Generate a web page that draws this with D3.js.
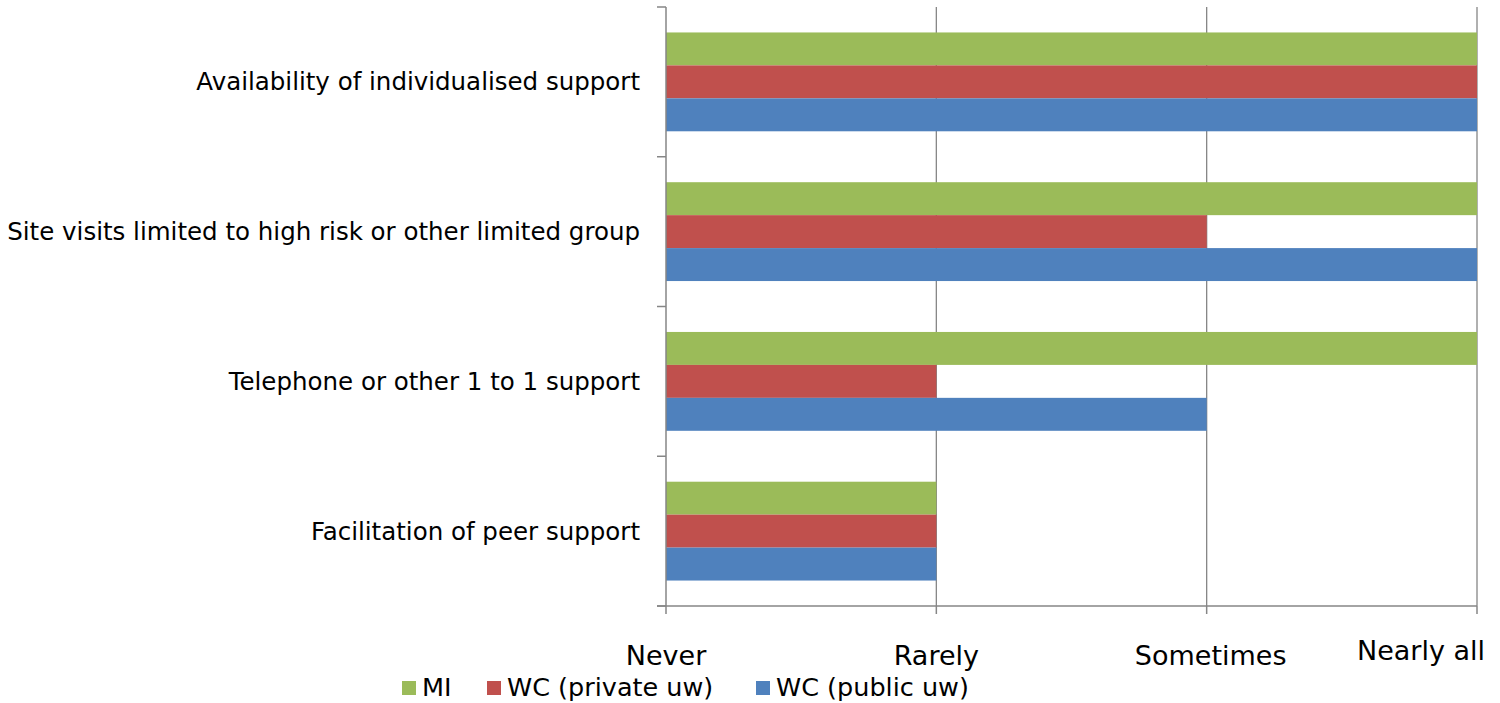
<!DOCTYPE html>
<html><head><meta charset="utf-8">
<script src="https://cdn.jsdelivr.net/npm/d3@7"></script>
<style>
html,body{margin:0;padding:0;background:#fff;}
svg text{font-family:"DejaVu Sans","Noto Sans",sans-serif;fill:#000;}
</style></head>
<body><svg id="c" width="1500" height="703"></svg>
<script>
const categories = ["Availability of individualised support","Site visits limited to high risk or other limited group","Telephone or other 1 to 1 support","Facilitation of peer support"];
const seriesNames = ["MI","WC (private uw)","WC (public uw)"];
const seriesColors = ["#9BBB59","#C0504D","#4F81BD"];
const valuesMI = [3,3,3,1];
const valuesWCprivate = [3,2,1,1];
const valuesWCpublic = [3,3,2,1];
const tickLabels = ["Never","Rarely","Sometimes","Nearly all"];
const tickValues = [0,1,2,3];

(function(){
const seriesValues = [valuesMI, valuesWCprivate, valuesWCpublic];
const svg = d3.select("#c");
const pl = 666, pr = 1477, pt = 7, pb = 606;

const x = d3.scaleLinear().domain([0,3]).range([pl,pr]);
const y = d3.scaleBand().domain(categories).range([pt,pb]).paddingInner(0.34).paddingOuter(0.17);
const ys = d3.scaleBand().domain(seriesNames).range([0,y.bandwidth()]);

svg.append("g").selectAll("line").data(tickValues.slice(1)).join("line")
  .attr("x1",d=>x(d)).attr("x2",d=>x(d)).attr("y1",pt).attr("y2",pb)
  .attr("stroke","#868686").attr("stroke-width",1.3);

const rows = categories.map((c,i)=>({c, vals: seriesNames.map((s,j)=>({s, v: seriesValues[j][i], col: seriesColors[j]}))}));
const g = svg.append("g");
rows.forEach(r=>{
  g.append("g").selectAll("rect").data(r.vals).join("rect")
    .attr("x",x(0)).attr("y",d=>y(r.c)+ys(d.s))
    .attr("width",d=>x(d.v)-x(0)).attr("height",ys.bandwidth())
    .attr("fill",d=>d.col);
});

const bounds = d3.range(categories.length+1).map(i=>pt + i*((pb-pt)/categories.length));
svg.append("line").attr("x1",pl).attr("x2",pl).attr("y1",pt).attr("y2",pb).attr("stroke","#868686").attr("stroke-width",1.5);
svg.append("g").selectAll("line").data(bounds).join("line")
  .attr("x1",pl-9).attr("x2",pl).attr("y1",d=>d).attr("y2",d=>d).attr("stroke","#868686").attr("stroke-width",1.5);
svg.append("line").attr("x1",pl-9).attr("x2",pr).attr("y1",pb).attr("y2",pb).attr("stroke","#868686").attr("stroke-width",1.5);
svg.append("g").selectAll("line").data(tickValues).join("line")
  .attr("x1",d=>x(d)).attr("x2",d=>x(d)).attr("y1",pb).attr("y2",pb+8).attr("stroke","#868686").attr("stroke-width",1.5);

svg.append("g").selectAll("text").data(categories).join("text")
  .attr("x",640).attr("y",d=>y(d)+y.bandwidth()/2).attr("dy","0.35em")
  .attr("text-anchor","end").style("font-size","24.5px").text(d=>d);

const tickDx = [0,0,4,-56];
const tickY = [665,665,665,660];
svg.append("g").selectAll("text").data(tickValues).join("text")
  .attr("x",(d,i)=>x(d)+tickDx[i]).attr("y",(d,i)=>tickY[i])
  .attr("text-anchor","middle").style("font-size","27px").text((d,i)=>tickLabels[i]);

const legX = [402,487,756];
const lg = svg.append("g").selectAll("g").data(seriesNames).join("g");
lg.append("rect").attr("x",(d,i)=>legX[i]).attr("y",681).attr("width",14).attr("height",14).attr("fill",(d,i)=>seriesColors[i]);
lg.append("text").attr("x",(d,i)=>legX[i]+20).attr("y",696).style("font-size","25.5px").text(d=>d);
})();
</script></body></html>
